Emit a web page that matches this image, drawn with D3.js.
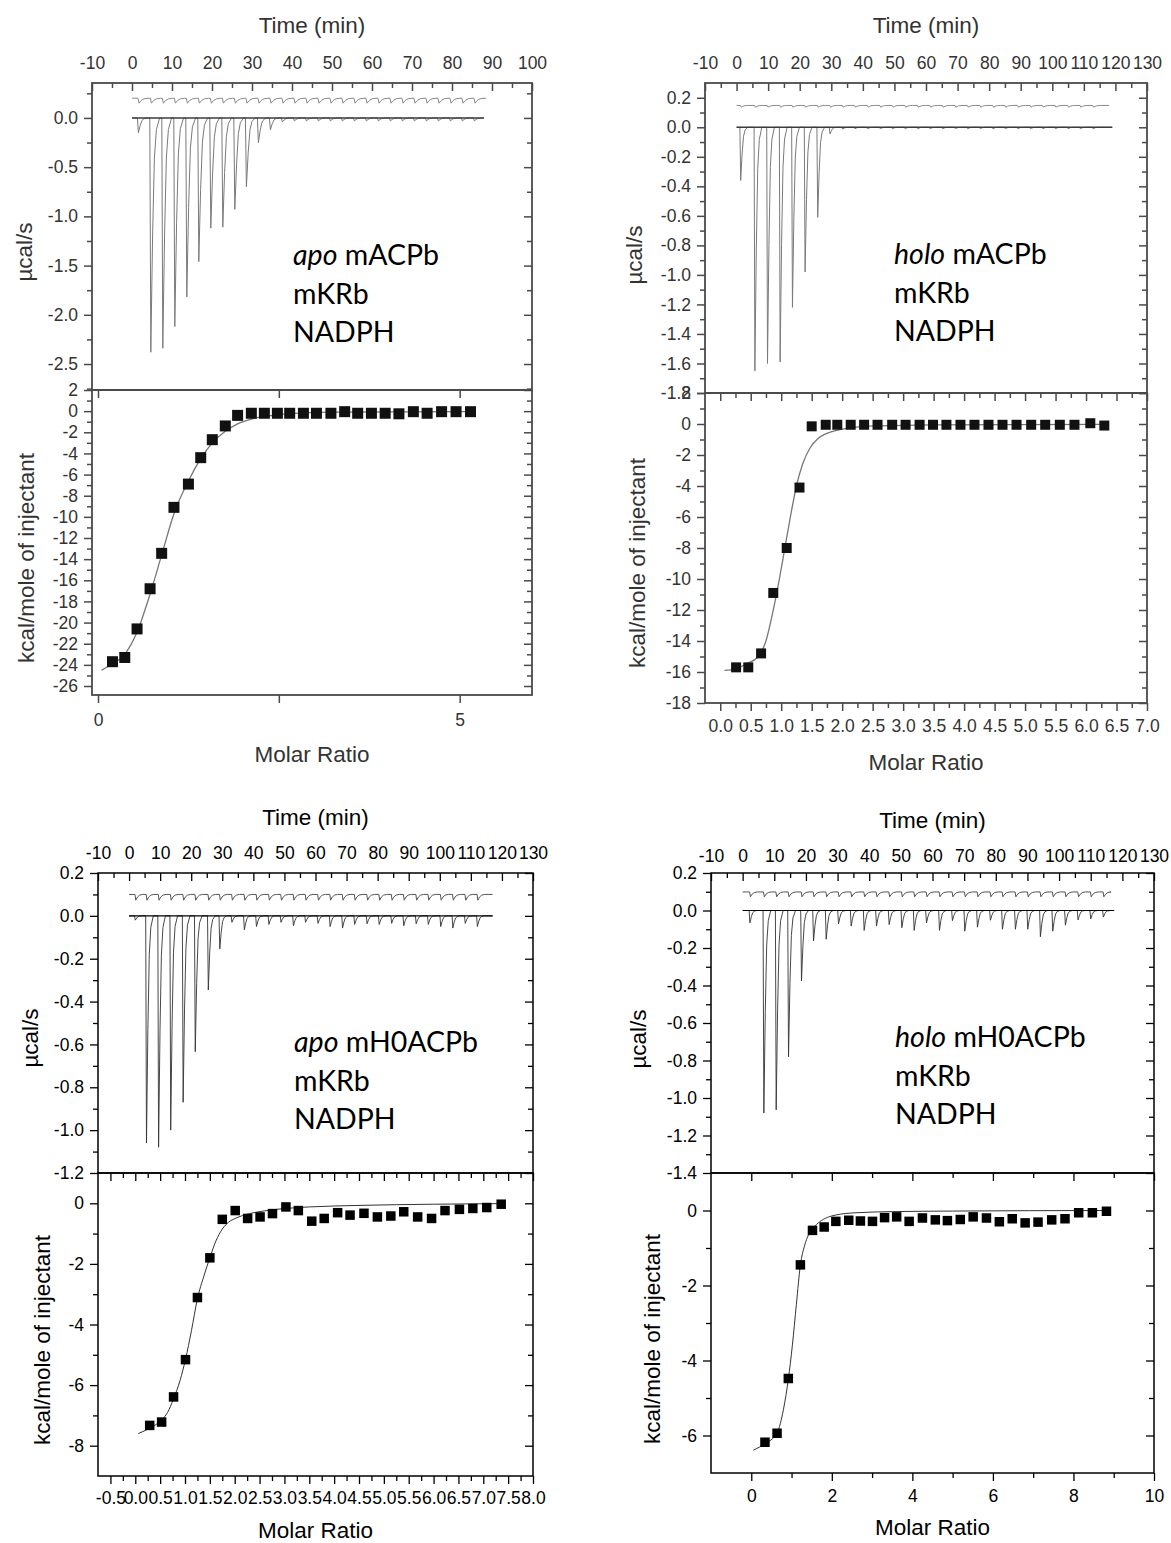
<!DOCTYPE html>
<html>
<head>
<meta charset="utf-8">
<script src="https://cdn.jsdelivr.net/npm/d3@7"></script>
<style>
  body { margin: 0; background: #fff; }
  svg { display: block; }
</style>
</head>
<body>
<svg id="fig" width="1171" height="1543"></svg>
<script>
// ─── Data ─────────────────────────────────────────────────────────────────────

// raw thermograms: injection times (min) and peak heights (µcal/s)
const injTimesA  = [1.6, 4.7, 7.7, 10.7, 13.7, 16.7, 19.7, 22.7, 25.7, 28.6, 31.6, 34.6, 37.6, 40.6, 43.6,
                    46.6, 49.6, 52.6, 55.6, 58.6, 61.6, 64.6, 67.6, 70.6, 73.6, 76.6, 79.6, 82.6, 85.6];
const peaksA     = [-0.15, -2.38, -2.34, -2.12, -1.82, -1.46, -1.12, -1.11, -0.93, -0.70, -0.25, -0.12, -0.04, -0.03, -0.03,
                    -0.03, -0.03, -0.03, -0.03, -0.03, -0.03, -0.03, -0.03, -0.03, -0.03, -0.03, -0.03, -0.03, -0.03];

const injTimesB  = [1.3, 5.8, 9.8, 13.8, 17.7, 21.7, 25.7, 29.6, 33.6, 37.5, 41.5, 45.5, 49.4, 53.4, 57.4,
                    61.3, 65.3, 69.3, 73.2, 77.2, 81.2, 85.1, 89.1, 93.1, 97.0, 101.0, 105.0, 108.9, 112.9];
const peaksB     = [-0.36, -1.65, -1.60, -1.59, -1.22, -0.98, -0.61, -0.045, -0.012, -0.01, -0.01, -0.01, -0.01, -0.01, -0.01,
                    -0.01, -0.01, -0.01, -0.01, -0.01, -0.01, -0.01, -0.01, -0.01, -0.01, -0.01, -0.01, -0.01, -0.01];

const injTimesC  = [2.0, 5.6, 9.5, 13.4, 17.4, 21.3, 25.5, 29.2, 33.1, 37.1, 41.0, 45.0, 48.9, 52.9, 56.8,
                    60.8, 64.7, 68.7, 72.6, 76.6, 80.5, 84.5, 88.4, 92.4, 96.3, 100.3, 104.2, 108.2, 112.1];
const peaksC     = [-0.02, -1.06, -1.08, -1.00, -0.87, -0.634, -0.346, -0.154, -0.03, -0.065, -0.05, -0.04, -0.03, -0.046, -0.03,
                    -0.035, -0.05, -0.057, -0.04, -0.037, -0.04, -0.035, -0.046, -0.037, -0.04, -0.05, -0.057, -0.035, -0.05];

const injTimesD  = [2.3, 6.7, 10.6, 14.5, 18.6, 22.4, 26.4, 30.3, 34.3, 38.4, 42.3, 46.3, 50.3, 54.2, 58.1,
                    62.2, 66.3, 70.2, 74.2, 78.3, 82.1, 86.2, 90.1, 94.1, 98.0, 102.0, 106.0, 110.0, 114.0];
const peaksD     = [-0.066, -1.08, -1.063, -0.78, -0.376, -0.162, -0.153, -0.071, -0.083, -0.106, -0.083, -0.075, -0.092, -0.106, -0.066,
                    -0.106, -0.054, -0.11, -0.089, -0.052, -0.10, -0.10, -0.10, -0.14, -0.11, -0.078, -0.05, -0.045, -0.035];

// integrated heats: molar ratio and kcal/mole of injectant
const ratioA = [0.20, 0.37, 0.54, 0.72, 0.88, 1.05, 1.25, 1.42, 1.58, 1.76, 1.93, 2.12, 2.30, 2.48, 2.65,
                2.84, 3.02, 3.22, 3.41, 3.59, 3.78, 3.97, 4.16, 4.36, 4.55, 4.75, 4.95, 5.15];
const heatA  = [-23.7, -23.3, -20.6, -16.8, -13.45, -9.1, -6.9, -4.4, -2.7, -1.4, -0.4, -0.2, -0.2, -0.2, -0.2,
                -0.2, -0.2, -0.2, -0.05, -0.2, -0.2, -0.2, -0.25, -0.05, -0.2, -0.05, -0.05, -0.05];

const ratioB = [0.26, 0.46, 0.67, 0.87, 1.09, 1.30, 1.50, 1.73, 1.92, 2.14, 2.36, 2.58, 2.82, 3.04, 3.27,
                3.49, 3.71, 3.94, 4.17, 4.40, 4.63, 4.86, 5.10, 5.33, 5.57, 5.81, 6.07, 6.30];
const heatB  = [-15.7, -15.7, -14.8, -10.9, -8.0, -4.1, -0.15, -0.05, -0.05, -0.05, -0.05, -0.05, -0.05, -0.05, -0.05,
                -0.05, -0.05, -0.05, -0.05, -0.05, -0.05, -0.05, -0.05, -0.05, -0.05, -0.05, 0.05, -0.1];

const ratioC = [0.29, 0.53, 0.77, 1.01, 1.25, 1.50, 1.75, 2.01, 2.26, 2.51, 2.76, 3.03, 3.28, 3.55, 3.80,
                4.07, 4.32, 4.60, 4.87, 5.14, 5.40, 5.68, 5.96, 6.23, 6.52, 6.79, 7.07, 7.36];
const heatC  = [-7.33, -7.22, -6.39, -5.16, -3.11, -1.80, -0.53, -0.24, -0.50, -0.45, -0.34, -0.12, -0.24, -0.59, -0.50,
                -0.31, -0.39, -0.33, -0.45, -0.42, -0.28, -0.45, -0.50, -0.24, -0.20, -0.17, -0.14, -0.03];

const ratioD = [0.34, 0.64, 0.92, 1.22, 1.52, 1.81, 2.10, 2.42, 2.71, 3.01, 3.31, 3.61, 3.92, 4.25, 4.57,
                4.87, 5.19, 5.51, 5.84, 6.16, 6.48, 6.80, 7.12, 7.46, 7.79, 8.13, 8.47, 8.82];
const heatD  = [-6.18, -5.94, -4.48, -1.45, -0.53, -0.44, -0.29, -0.26, -0.28, -0.29, -0.19, -0.17, -0.29, -0.20, -0.25,
                -0.27, -0.24, -0.17, -0.20, -0.30, -0.22, -0.33, -0.31, -0.25, -0.22, -0.06, -0.06, -0.02];

// fitted binding curves
const fitA = [[0.05, -24.5], [0.2, -23.9], [0.37, -23.0], [0.54, -20.9], [0.72, -17.3], [0.88, -13.6], [1.05, -9.7],
              [1.25, -6.6], [1.42, -4.5], [1.58, -3.0], [1.76, -1.9], [1.93, -1.2], [2.12, -0.75], [2.3, -0.5],
              [2.5, -0.32], [2.8, -0.18], [3.3, -0.1], [5.15, -0.05]];
const fitB = [[0.07, -15.9], [0.26, -15.8], [0.46, -15.4], [0.6, -15.1], [0.75, -14.0], [0.87, -12.0], [0.97, -10.0],
              [1.06, -8.0], [1.15, -6.0], [1.25, -4.0], [1.35, -2.6], [1.48, -1.5], [1.6, -0.95], [1.75, -0.6],
              [1.95, -0.38], [2.2, -0.22], [2.6, -0.12], [3.5, -0.05], [6.3, -0.02]];
const fitC = [[0.06, -7.6], [0.29, -7.42], [0.53, -7.15], [0.65, -6.9], [0.77, -6.45], [0.9, -5.85], [1.01, -5.15],
              [1.13, -4.2], [1.25, -3.15], [1.38, -2.4], [1.5, -1.8], [1.62, -1.25], [1.75, -0.85], [1.88, -0.62],
              [2.01, -0.5], [2.3, -0.34], [2.6, -0.25], [3.03, -0.17], [3.5, -0.12], [4.5, -0.07], [6.0, -0.03], [7.36, -0.01]];
const fitD = [[0.05, -6.39], [0.34, -6.22], [0.64, -5.93], [0.8, -5.3], [0.92, -4.5], [1.02, -3.6], [1.12, -2.5],
              [1.22, -1.45], [1.32, -0.95], [1.42, -0.65], [1.55, -0.45], [1.7, -0.3], [1.9, -0.18], [2.1, -0.12],
              [2.6, -0.06], [3.5, -0.03], [5.0, -0.015], [8.82, 0.0]];

// tick labels
const timeTicksA  = [-10, 0, 10, 20, 30, 40, 50, 60, 70, 80, 90, 100];
const timeTicks   = [-10, 0, 10, 20, 30, 40, 50, 60, 70, 80, 90, 100, 110, 120, 130];
const rawTicksA   = [0, -0.5, -1.0, -1.5, -2.0, -2.5];
const rawTicksB   = [0.2, 0, -0.2, -0.4, -0.6, -0.8, -1.0, -1.2, -1.4, -1.6, -1.8];
const rawTicksC   = [0.2, 0, -0.2, -0.4, -0.6, -0.8, -1.0, -1.2];
const rawTicksD   = [0.2, 0, -0.2, -0.4, -0.6, -0.8, -1.0, -1.2, -1.4];
const heatTicksA  = [2, 0, -2, -4, -6, -8, -10, -12, -14, -16, -18, -20, -22, -24, -26];
const heatTicksB  = [2, 0, -2, -4, -6, -8, -10, -12, -14, -16, -18];
const heatTicksC  = [0, -2, -4, -6, -8];
const heatTicksD  = [0, -2, -4, -6];
const ratioTicksA = [0, 2.5, 5];
const ratioLabelsA = [0, 5];
const ratioTicksB = [0, 0.5, 1, 1.5, 2, 2.5, 3, 3.5, 4, 4.5, 5, 5.5, 6, 6.5, 7];
const ratioTicksC = [-0.5, 0, 0.5, 1, 1.5, 2, 2.5, 3, 3.5, 4, 4.5, 5, 5.5, 6, 6.5, 7, 7.5, 8];
const ratioTicksD = [0, 2, 4, 6, 8, 10];

const labelsA = [["apo", " mACPb"], ["", "mKRb"], ["", "NADPH"]];
const labelsB = [["holo", " mACPb"], ["", "mKRb"], ["", "NADPH"]];
const labelsC = [["apo", " mH0ACPb"], ["", "mKRb"], ["", "NADPH"]];
const labelsD = [["holo", " mH0ACPb"], ["", "mKRb"], ["", "NADPH"]];

// ─── Styles ───────────────────────────────────────────────────────────────────
const FONT = "'Liberation Sans', Arial, sans-serif";
const ANNOT_FONT = "Lato, 'Open Sans', sans-serif";

const softStyle = {   // the two blurred scans at the top
    frame: "#4a4a4a", frameW: 1.8, tick: "#4a4a4a", tickW: 1.5, text: "#333",
    trace: "#7a7a7a", traceW: 1, base: "#3c3c3c", baseW: 1.6, ref: "#8a8a8a",
    fit: "#777", fitW: 1.3, mark: "#111"
};
const crispStyle = {
    frame: "#000", frameW: 1.5, tick: "#000", tickW: 1.3, text: "#000",
    trace: "#333", traceW: 0.9, base: "#000", baseW: 1.1, ref: "#555",
    fit: "#333", fitW: 1, mark: "#000"
};

const fmt1 = d => d.toFixed(1);
const fmt0 = d => String(d);

// ─── Panel layout (built from the arrays above) ───────────────────────────────
const panels = [
    {
        left: 92, right: 532, top: 83, sep: 390, bottom: 695, style: softStyle,
        timeDomain: [-10, 100], rawDomain: [-2.764, 0.355], ratioDomain: [-0.083, 6.0], heatDomain: [-26.85, 2],
        times: injTimesA, peaks: peaksA, traceEnd: 88, refBase: 0.2, refNotch: 0.05, refEnd: 88.5,
        ratio: ratioA, heat: heatA, fit: fitA, markSize: 11,
        timeTicks: timeTicksA, rawTicks: rawTicksA, rawMinorStep: 0.25, rawFmt: fmt1,
        heatTicks: heatTicksA, heatMinorStep: 1,
        ratioTicks: ratioTicksA, ratioMinorStep: null, ratioFmt: d => (ratioLabelsA.includes(d) ? String(d) : ""),
        timeTitleY: 25, timeLabelPad: 14, ratioTitleY: 754, ratioLabelPad: 11,
        rawTitle: [24, 252], heatTitle: [26, 558],
        annot: { x: 293, y: 265, lines: labelsA }
    },
    {
        left: 705, right: 1147, top: 83, sep: 393, bottom: 703, style: softStyle,
        timeDomain: [-10, 130], rawDomain: [-1.8, 0.3], ratioDomain: [-0.25, 7.0], heatDomain: [-18, 2],
        times: injTimesB, peaks: peaksB, traceEnd: 119, refBase: 0.148, refNotch: 0.012, refEnd: 118,
        ratio: ratioB, heat: heatB, fit: fitB, markSize: 10,
        timeTicks: timeTicks, rawTicks: rawTicksB, rawMinorStep: 0.1, rawFmt: fmt1,
        heatTicks: heatTicksB, heatMinorStep: 1,
        ratioTicks: ratioTicksB, ratioMinorStep: 0.25, ratioFmt: fmt1,
        timeTitleY: 25, timeLabelPad: 14, ratioTitleY: 762, ratioLabelPad: 9,
        rawTitle: [634, 255], heatTitle: [637, 563],
        annot: { x: 894, y: 264, lines: labelsB }
    },
    {
        left: 98, right: 533, top: 873, sep: 1173, bottom: 1476, style: crispStyle,
        timeDomain: [-10, 130], rawDomain: [-1.2, 0.2], ratioDomain: [-0.75, 8.0], heatDomain: [-9, 1],
        times: injTimesC, peaks: peaksC, traceEnd: 117, refBase: 0.1, refNotch: 0.027, refEnd: 117,
        ratio: ratioC, heat: heatC, fit: fitC, markSize: 9.5,
        timeTicks: timeTicks, rawTicks: rawTicksC, rawMinorStep: 0.1, rawFmt: fmt1,
        heatTicks: heatTicksC, heatMinorStep: 1,
        ratioTicks: ratioTicksC, ratioMinorStep: 0.25, ratioFmt: fmt1,
        timeTitleY: 817, timeLabelPad: 14, ratioTitleY: 1530, ratioLabelPad: 8,
        rawTitle: [30, 1038], heatTitle: [42, 1340],
        annot: { x: 294, y: 1052, lines: labelsC }
    },
    {
        left: 711, right: 1154, top: 873, sep: 1173, bottom: 1473, style: crispStyle,
        timeDomain: [-10, 130], rawDomain: [-1.4, 0.2], ratioDomain: [-1, 10], heatDomain: [-7, 1],
        times: injTimesD, peaks: peaksD, traceEnd: 117.4, refBase: 0.099, refNotch: 0.026, refEnd: 116,
        ratio: ratioD, heat: heatD, fit: fitD, markSize: 9.5,
        timeTicks: timeTicks, rawTicks: rawTicksD, rawMinorStep: 0.1, rawFmt: fmt1,
        heatTicks: heatTicksD, heatMinorStep: 1,
        ratioTicks: ratioTicksD, ratioMinorStep: 1, ratioFmt: fmt0,
        timeTitleY: 820, timeLabelPad: 11, ratioTitleY: 1527, ratioLabelPad: 9,
        rawTitle: [638, 1039], heatTitle: [652, 1339],
        annot: { x: 895, y: 1047, lines: labelsD }
    }
];

const svg = d3.select("#fig");

// minor ticks fill the gaps between labelled ticks, inside the axis domain
function minorTicks(domain, step, majors) {
    if (!step) return [];
    const [lo, hi] = d3.extent(domain);
    const start = Math.ceil((lo + 1e-6) / step) * step;
    return d3.range(start, hi - 1e-6, step)
        .map(v => +v.toFixed(4))
        .filter(v => !majors.some(m => Math.abs(m - v) < 1e-6));
}

function addAxis(g, axisFn, scale, values, size, pad, fmt, tx, ty, st) {
    const ax = axisFn(scale).tickValues(values).tickSizeInner(size).tickSizeOuter(0)
        .tickPadding(pad).tickFormat(fmt || (() => ""));
    const a = g.append("g")
        .attr("transform", `translate(${tx},${ty})`)
        .call(ax)
        .attr("font-family", FONT)
        .attr("font-size", 17.5);
    a.select(".domain").remove();
    a.selectAll(".tick line").attr("stroke", st.tick).attr("stroke-width", st.tickW);
    a.selectAll(".tick text").attr("fill", st.text);
    return a;
}

// ─── Thermogram geometry from injection list ──────────────────────────────────
// sharp drop at each injection, quick return to the baseline
function tracePoints(times, peaks, tEnd) {
    const pts = [[0, 0]];
    times.forEach((t, i) => {
        const d = peaks[i];
        pts.push([t - 0.25, 0], [t, d], [t + 0.45, d * 0.5], [t + 0.9, d * 0.17],
                 [t + 1.4, d * 0.05], [t + 2.2, 0]);
    });
    pts.push([tEnd, 0]);
    return pts;
}

function refPoints(times, base, notch, tEnd) {
    const pts = [[0, base]];
    times.forEach(t => {
        pts.push([t - 0.1, base], [t + 0.15, base - notch], [t + 0.7, base - notch * 0.45],
                 [t + 1.4, base - notch * 0.12], [t + 2.4, base]);
    });
    pts.push([tEnd, base]);
    return pts;
}

function drawPanel(p) {
    const st = p.style;
    const g = svg.append("g");
    const cx = (p.left + p.right) / 2;

    const xTime  = d3.scaleLinear().domain(p.timeDomain).range([p.left, p.right]);
    const yRaw   = d3.scaleLinear().domain(p.rawDomain).range([p.sep, p.top]);
    const xRatio = d3.scaleLinear().domain(p.ratioDomain).range([p.left, p.right]);
    const yHeat  = d3.scaleLinear().domain(p.heatDomain).range([p.bottom, p.sep]);

    // ── upper: raw thermogram
    const line = d3.line().x(d => xTime(d[0])).y(d => yRaw(d[1]));
    g.append("path")
        .attr("d", line(refPoints(p.times, p.refBase, p.refNotch, p.refEnd)))
        .attr("fill", "none").attr("stroke", st.ref).attr("stroke-width", 1);
    g.append("path")
        .attr("d", line(tracePoints(p.times, p.peaks, p.traceEnd)))
        .attr("fill", "none").attr("stroke", st.trace).attr("stroke-width", st.traceW)
        .attr("stroke-linejoin", "round");
    g.append("line")
        .attr("x1", xTime(0)).attr("x2", xTime(p.traceEnd))
        .attr("y1", yRaw(0)).attr("y2", yRaw(0))
        .attr("stroke", st.base).attr("stroke-width", st.baseW);

    // ── lower: binding isotherm
    const fitLine = d3.line().curve(d3.curveMonotoneX)
        .x(d => xRatio(d[0])).y(d => yHeat(d[1]));
    g.append("path")
        .attr("d", fitLine(p.fit))
        .attr("fill", "none").attr("stroke", st.fit).attr("stroke-width", st.fitW);

    const sq = d3.symbol().type(d3.symbolSquare).size(p.markSize * p.markSize);
    g.append("g").selectAll("path")
        .data(p.ratio.map((r, i) => [r, p.heat[i]]))
        .join("path")
        .attr("d", sq)
        .attr("transform", d => `translate(${xRatio(d[0])},${yHeat(d[1])})`)
        .attr("fill", st.mark);

    // ── frames
    [[p.top, p.sep], [p.sep, p.bottom]].forEach(([y0, y1]) => {
        g.append("rect")
            .attr("x", p.left).attr("y", y0)
            .attr("width", p.right - p.left).attr("height", y1 - y0)
            .attr("fill", "none").attr("stroke", st.frame).attr("stroke-width", st.frameW);
    });

    // ── axes: time (top, ticks inward)
    const tMinor = minorTicks(p.timeDomain, 5, p.timeTicks);
    addAxis(g, d3.axisTop, xTime, p.timeTicks, -8, p.timeLabelPad, fmt0, 0, p.top, st);
    addAxis(g, d3.axisTop, xTime, tMinor, -5, 0, null, 0, p.top, st);

    // raw y: left outward with labels, right inward
    const rMinor = minorTicks(p.rawDomain, p.rawMinorStep, p.rawTicks);
    addAxis(g, d3.axisLeft, yRaw, p.rawTicks, 8, 6, p.rawFmt, p.left, 0, st);
    addAxis(g, d3.axisLeft, yRaw, rMinor, 5, 0, null, p.left, 0, st);
    addAxis(g, d3.axisRight, yRaw, p.rawTicks, -8, 0, null, p.right, 0, st);
    addAxis(g, d3.axisRight, yRaw, rMinor, -5, 0, null, p.right, 0, st);

    // heat y
    const hMinor = minorTicks(p.heatDomain, p.heatMinorStep, p.heatTicks);
    addAxis(g, d3.axisLeft, yHeat, p.heatTicks, 8, 6, fmt0, p.left, 0, st);
    addAxis(g, d3.axisLeft, yHeat, hMinor, 5, 0, null, p.left, 0, st);
    addAxis(g, d3.axisRight, yHeat, p.heatTicks, -8, 0, null, p.right, 0, st);
    addAxis(g, d3.axisRight, yHeat, hMinor, -5, 0, null, p.right, 0, st);

    // molar ratio: bottom outward with labels, separator inward
    const mMinor = minorTicks(p.ratioDomain, p.ratioMinorStep, p.ratioTicks);
    addAxis(g, d3.axisBottom, xRatio, p.ratioTicks, 8, p.ratioLabelPad, p.ratioFmt, 0, p.bottom, st);
    addAxis(g, d3.axisBottom, xRatio, mMinor, 5, 0, null, 0, p.bottom, st);
    addAxis(g, d3.axisBottom, xRatio, p.ratioTicks, 8, 0, null, 0, p.sep, st);
    addAxis(g, d3.axisBottom, xRatio, mMinor, 5, 0, null, 0, p.sep, st);

    // ── titles
    const title = (x, y, txt, rot) => g.append("text")
        .attr("transform", `translate(${x},${y})` + (rot ? " rotate(-90)" : ""))
        .attr("text-anchor", "middle").attr("dy", "0.35em")
        .attr("font-family", FONT).attr("font-size", 22.5).attr("fill", st.text)
        .text(txt);
    title(cx, p.timeTitleY, "Time (min)");
    title(cx, p.ratioTitleY, "Molar Ratio");
    title(p.rawTitle[0], p.rawTitle[1], "µcal/s", true);
    title(p.heatTitle[0], p.heatTitle[1], "kcal/mole of injectant", true);

    // ── sample annotation
    p.annot.lines.forEach(([it, rest], i) => {
        const t = g.append("text")
            .attr("x", p.annot.x).attr("y", p.annot.y + i * 38.5)
            .attr("font-family", ANNOT_FONT).attr("font-size", 28.5).attr("fill", "#000");
        if (it) t.append("tspan").attr("font-style", "italic").text(it);
        t.append("tspan").text(rest);
    });
}

panels.forEach(drawPanel);
</script>
</body>
</html>
